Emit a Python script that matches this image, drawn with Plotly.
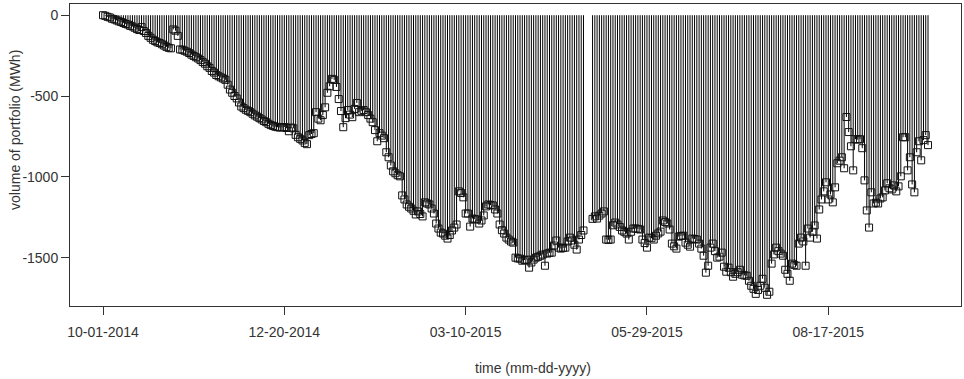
import pandas as pd
import plotly.graph_objects as go

start_date = "2014-10-01"
n_days = 365

# daily portfolio volume (MWh); None = day without data
vol_000 = [0, -4, -10, -14, -22, -26, -32, -38, -42, -48,
           -54, -58, -66, -70, -78, -86, -92, -74, -98, -110,
           -128, -140, -152, -160, -168, -172, -180, -188, -196, -202,
           -205, -88, -96, -128, -212, -214, -220, -226, -234, -244,
           -252, -260, -268, -278, -290, -300, -316, -326, -345, -355]
vol_050 = [-370, -378, -385, -392, -400, -430, -460, -480, -500, -515,
           -540, -565, -575, -585, -592, -600, -610, -620, -628, -637,
           -645, -655, -662, -672, -680, -685, -690, -693, -695, -694,
           -692, -698, -718, -695, -700, -740, -755, -765, -775, -790,
           -798, -742, -735, -730, -600, -640, -650, -618, -570, -480]
vol_100 = [-440, -394, -400, -444, -519, -593, -693, -637, -587, -615,
           -631, -580, -543, -600, -592, -587, -600, -618, -640, -662,
           -711, -780, -730, -745, -761, -848, -879, -930, -966, -978,
           -990, -997, -1115, -1140, -1171, -1185, -1196, -1210, -1233, -1214,
           -1230, -1245, -1158, -1165, -1171, -1196, -1227, -1289, -1320, -1345]
vol_150 = [-1351, -1364, -1382, -1360, -1332, -1314, -1295, -1090, -1100, -1127,
           -1227, -1227, -1308, -1258, -1262, -1264, -1289, -1270, -1239, -1183,
           -1171, -1175, -1177, -1202, -1227, -1295, -1330, -1351, -1376, -1388,
           -1400, -1407, -1500, -1505, -1506, -1519, -1515, -1512, -1562, -1530,
           -1512, -1500, -1495, -1488, -1481, -1550, -1475, -1470, -1469, -1425]
vol_200 = [-1394, -1438, -1444, -1440, -1438, -1400, -1376, -1394, -1420, -1450,
           -1388, -1360, -1332, None, None, None, -1260, -1245, -1258, -1240,
           -1227, -1214, -1388, -1390, -1388, -1300, -1283, -1295, -1310, -1332,
           -1340, -1351, -1388, -1340, -1320, -1320, -1322, -1326, -1388, -1410,
           -1438, -1376, -1380, -1388, -1364, -1350, -1339, -1270, -1280, -1289]
vol_250 = [-1326, -1413, -1430, -1444, -1370, -1366, -1364, -1407, -1420, -1432,
           -1382, -1385, -1388, -1413, -1444, -1488, -1593, -1550, -1438, -1413,
           -1460, -1500, -1494, -1469, -1556, -1587, -1562, -1590, -1618, -1600,
           -1590, -1575, -1606, -1610, -1612, -1643, -1674, -1693, -1724, -1700,
           -1674, -1631, -1686, -1730, -1711, -1537, -1480, -1438, -1460, -1475]
vol_300 = [-1488, -1575, -1600, -1643, -1537, -1545, -1550, -1413, -1376, -1400,
           -1550, -1320, -1376, -1340, -1301, -1382, -1202, -1140, -1090, -1034,
           -1140, -1109, -1158, -1065, -916, -900, -879, -947, -630, -723,
           -811, -960, -767, -770, -767, -823, -1022, -1208, -1314, -1096,
           -1165, -1160, -1165, -1134, -1127, -1084, -1040, -1071, -1078, -1053]
vol_350 = [-1090, -1059, -997, -755, -755, -960, -879, -1047, -1096, -848,
           -780, -898, -773, -742, -804]

tick_dates = ["2014-10-01", "2014-12-20", "2015-03-10", "2015-05-29", "2015-08-17"]
tick_labels = ["10-01-2014", "12-20-2014", "03-10-2015", "05-29-2015", "08-17-2015"]
y_ticks = [0, -500, -1000, -1500]
y_tick_labels = ["0", "-500", "-1000", "-1500"]

values = vol_000 + vol_050 + vol_100 + vol_150 + vol_200 + vol_250 + vol_300 + vol_350
dates = pd.date_range(start_date, periods=n_days, freq="D")
pairs = [(d, v) for d, v in zip(dates, values) if v is not None]
xd = [p[0] for p in pairs]
yv = [p[1] for p in pairs]

# "type h" vertical lines from 0 to each value
hx, hy = [], []
for d, v in pairs:
    hx += [d, d, None]
    hy += [0, v, None]

fig = go.Figure()
fig.add_trace(go.Scatter(x=hx, y=hy, mode="lines",
                         line=dict(color="black", width=1),
                         hoverinfo="skip", showlegend=False))
fig.add_trace(go.Scatter(x=xd, y=yv, mode="markers",
                         marker=dict(symbol="square-open", size=7,
                                     color="#111111", line=dict(width=1, color="#111111")),
                         showlegend=False))

# R-style 4% padding of the data range
span_days = (xd[-1] - xd[0]).days
pad_x = pd.Timedelta(days=0.04 * span_days)
x0 = xd[0] - pad_x
x1 = xd[-1] + pad_x
ymin, ymax = min(yv), max(yv)
pad_y = 0.04 * (ymax - ymin)

font = dict(family="Liberation Sans, Arial, sans-serif", size=14, color="#333333")

fig.update_layout(
    width=964, height=379,
    margin=dict(l=70, r=3, t=4, b=73),
    paper_bgcolor="white", plot_bgcolor="white",
    font=font,
    showlegend=False,
)
fig.update_xaxes(
    type="date", range=[x0, x1],
    tickvals=tick_dates, ticktext=tick_labels,
    ticks="outside", ticklen=8, tickcolor="#333333", tickwidth=1,
    ticklabelstandoff=5,
    showline=True, linecolor="#333333", linewidth=1, mirror=True,
    showgrid=False, zeroline=False, tickfont=font,
)
fig.update_yaxes(
    range=[ymin - pad_y, ymax + pad_y],
    tickvals=y_ticks, ticktext=y_tick_labels,
    ticks="outside", ticklen=8, tickcolor="#333333", tickwidth=1,
    showline=True, linecolor="#333333", linewidth=1, mirror=True,
    showgrid=False, zeroline=False, tickfont=font,
)
fig.add_annotation(text="time (mm-dd-yyyy)", xref="paper", yref="paper",
                   x=0.52, y=-0.205, xanchor="center", yanchor="middle",
                   showarrow=False, font=font)
fig.add_annotation(text="volume of portfolio (MWh)", xref="paper", yref="paper",
                   x=-0.0617, y=0.583, xanchor="center", yanchor="middle",
                   textangle=-90, showarrow=False, font=font)

fig.write_html("out.html",
               config={"displayModeBar": False},
               post_script="document.body.style.margin='0';document.body.style.padding='0';")
